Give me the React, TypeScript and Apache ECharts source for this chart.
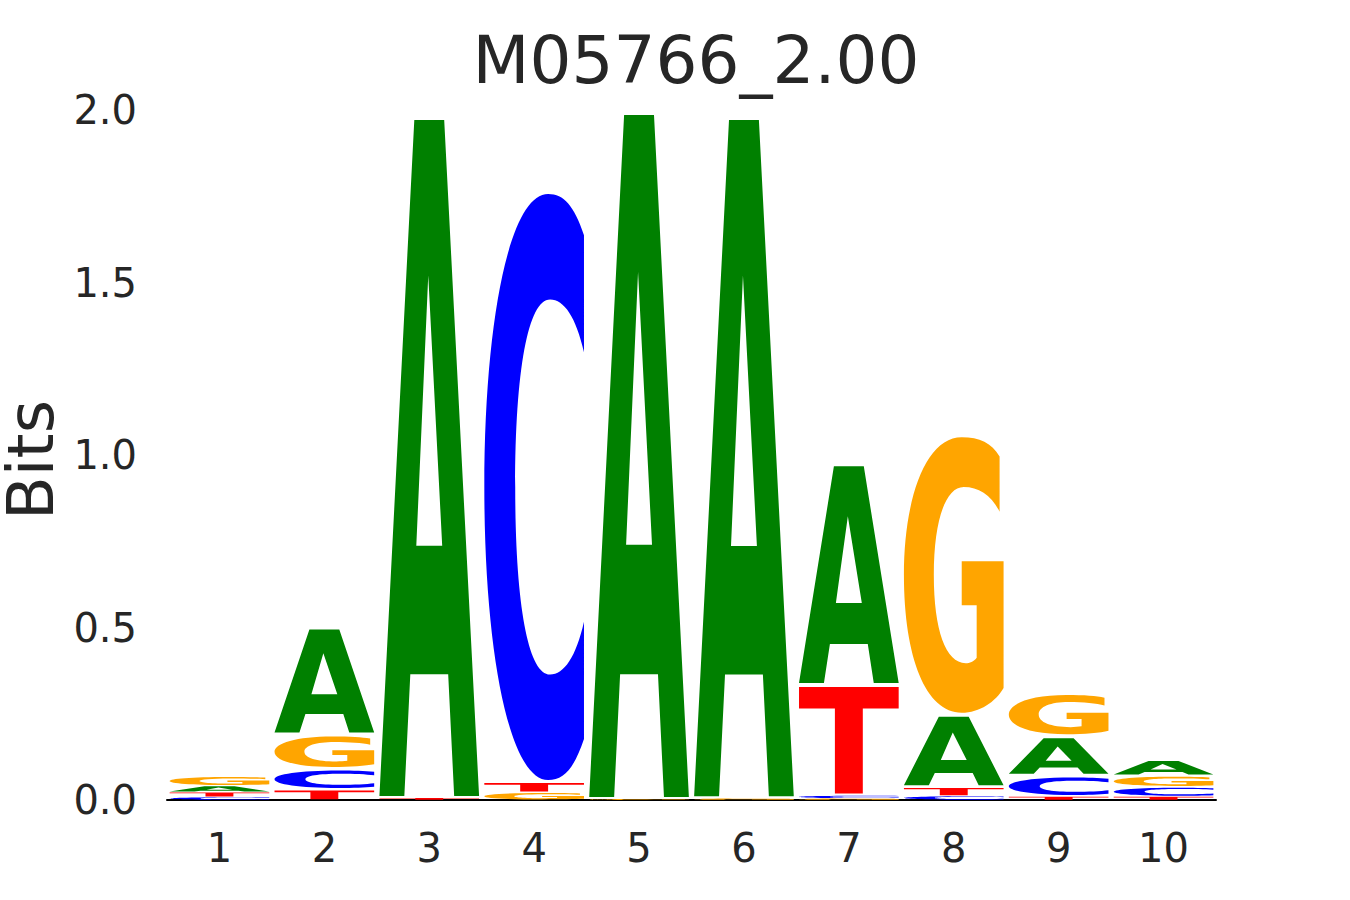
import React, { useEffect, useRef } from "react";
import * as echarts from "echarts";

const positions = ["1", "2", "3", "4", "5", "6", "7", "8", "9", "10"];
const letters = ["A", "C", "G", "T"];
const bitsA = [0.018, 0.31, 1.971, 0, 1.988, 1.972, 0.64, 0.21, 0.115, 0.047];
const bitsC = [0.009, 0.06, 0, 1.71, 0, 0, 0.008, 0.012, 0.06, 0.028];
const bitsG = [0.028, 0.1, 0, 0.022, 0.003, 0.005, 0.005, 0.81, 0.125, 0.032];
const bitsT = [0.014, 0.03, 0.006, 0.03, 0, 0, 0.32, 0.025, 0.01, 0.01];
const yTicks = [0, 0.5, 1.0, 1.5, 2.0];
const titleText = "M05766_2.00";
const yName = "Bits";

const letterColors: Record<string, string> = {
  A: "#008000",
  C: "#0000ff",
  G: "#ffa500",
  T: "#ff0000",
};

const glyphPaths: Record<string, string> = {
  A: "M0 100 L35 0 L65 0 L100 100 L75 100 L69 82 L31 82 L25 100 Z M37 63 L63 63 L49 23 Z",
  T: "M0 0 L100 0 L100 20 L64 20 L64 100 L36 100 L36 20 L0 20 Z",
  C: "M100 7 C90 2 80 0 64 0 C25 0 0 22 0 50 C0 78 25 100 64 100 C80 100 90 98 100 93 L100 73 C92 79 80 82 66 82 C44 82 31 70 31 50 C31 30 44 18 66 18 C80 18 92 21 100 27 Z",
  G: "M96 7 C88 2 76 0 58 0 C22 0 0 22 0 50 C0 80 22 100 58 100 C76 100 92 96 100 91 L100 45 L58 45 L58 61 L73 61 L73 80 C70 81.5 66 82 62 82 C42 82 30 70 30 50 C30 30 42 18 60 18 C75 18 88 21 96 27 Z",
};

function buildStacks() {
  const bits: Record<string, number[]> = { A: bitsA, C: bitsC, G: bitsG, T: bitsT };
  const out: any[] = [];
  positions.forEach((_, i) => {
    const items = letters
      .map((l) => ({ l, v: bits[l][i] }))
      .filter((d) => d.v > 0)
      .sort((a, b) => a.v - b.v);
    let base = 0;
    items.forEach((d) => {
      out.push({ value: [i, base, base + d.v, letters.indexOf(d.l)] });
      base += d.v;
    });
  });
  return out;
}

export default function App() {
  const ref = useRef<HTMLDivElement>(null);
  useEffect(() => {
    if (!ref.current) return;
    const chart = echarts.init(ref.current, undefined, { renderer: "svg" });
    const textColor = "#262626";
    chart.setOption({
      animation: false,
      backgroundColor: "#ffffff",
      title: {
        text: titleText,
        left: 691,
        textAlign: "center",
        top: 22,
        textStyle: {
          fontFamily: "DejaVu Sans",
          fontSize: 66,
          fontWeight: "normal",
          color: textColor,
        },
      },
      graphic: [
        {
          type: "text",
          x: 31,
          y: 460,
          rotation: Math.PI / 2,
          style: {
            text: yName,
            fontFamily: "DejaVu Sans",
            fontSize: 64,
            lineHeight: 60,
            fill: textColor,
            align: "center",
            verticalAlign: "middle",
          },
        },
      ],
      grid: {
        left: 167,
        right: 134,
        top: 110,
        bottom: 100,
        containLabel: false,
        outerBoundsMode: "none",
      },
      xAxis: {
        type: "category",
        data: positions,
        axisLine: { show: true, lineStyle: { color: "#000000", width: 2 } },
        axisTick: { show: false },
        axisLabel: {
          fontFamily: "DejaVu Sans",
          fontSize: 40,
          color: textColor,
          margin: 28,
        },
        splitLine: { show: false },
      },
      yAxis: {
        type: "value",
        min: yTicks[0],
        max: yTicks[yTicks.length - 1],
        interval: 0.5,
        axisLine: { show: false },
        axisTick: { show: false },
        splitLine: { show: false },
        axisLabel: {
          fontFamily: "DejaVu Sans",
          fontSize: 40,
          color: textColor,
          margin: 30,
          formatter: (v: number) => v.toFixed(1),
        },
      },
      series: [
        {
          type: "custom",
          data: buildStacks(),
          renderItem: (params: any, api: any) => {
            const idx = api.value(0);
            const y0 = api.value(1);
            const y1 = api.value(2);
            const letter = letters[api.value(3)];
            const pBot = api.coord([idx, y0]);
            const pTop = api.coord([idx, y1]);
            const band = api.size([1, 0])[0];
            const w = band * 0.95;
            const hFull = pBot[1] - pTop[1];
            const inset = Math.min(2, hFull * 0.08);
            const h = Math.max(hFull - 2 * inset, 0.3);
            return {
              type: "path",
              shape: {
                pathData: glyphPaths[letter],
                x: pBot[0] - w / 2,
                y: pTop[1] + inset,
                width: w,
                height: h,
                layout: "cover",
              },
              style: { fill: letterColors[letter] },
            };
          },
        },
      ],
    });
    return () => chart.dispose();
  }, []);
  return (
    <div
      ref={ref}
      style={{ position: "fixed", left: 0, top: 0, width: 1350, height: 900 }}
    />
  );
}
